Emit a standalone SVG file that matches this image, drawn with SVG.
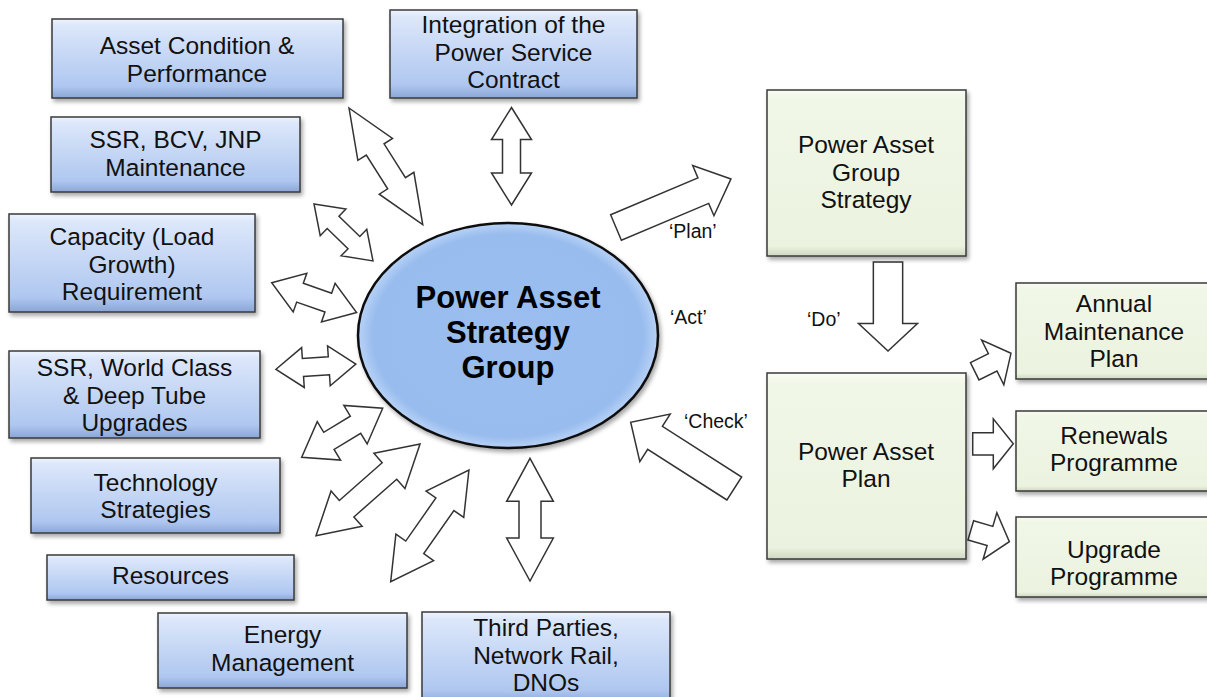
<svg xmlns="http://www.w3.org/2000/svg" width="1207" height="697" viewBox="0 0 1207 697">
<defs>
  <linearGradient id="blueG" x1="0" y1="0" x2="0" y2="1">
    <stop offset="0" stop-color="#eef4fe"/>
    <stop offset="0.08" stop-color="#dce7fa"/>
    <stop offset="0.85" stop-color="#afc7f0"/>
    <stop offset="1" stop-color="#8aa6d6"/>
  </linearGradient>
  <linearGradient id="greenG" x1="0" y1="0" x2="0" y2="1">
    <stop offset="0" stop-color="#f8fbf2"/>
    <stop offset="0.06" stop-color="#f1f7e7"/>
    <stop offset="0.94" stop-color="#ebf2df"/>
    <stop offset="1" stop-color="#cfd8c2"/>
  </linearGradient>
  <radialGradient id="ellG" cx="0.5" cy="0.5" r="0.5">
    <stop offset="0" stop-color="#9bbeef"/>
    <stop offset="0.9" stop-color="#98bcee"/>
    <stop offset="1" stop-color="#b8d2f6"/>
  </radialGradient>
  <filter id="sh" x="-10%" y="-10%" width="120%" height="130%">
    <feDropShadow dx="2" dy="3" stdDeviation="2" flood-color="#000" flood-opacity="0.35"/>
  </filter>
</defs>
<style>
  .bbox { fill: url(#blueG); stroke: #3a3a3a; stroke-width: 1.5; filter: url(#sh); }
  .gbox { fill: url(#greenG); stroke: #3a3a3a; stroke-width: 1.5; filter: url(#sh); }
  .t { font-family: "Liberation Sans", Arial, sans-serif; font-size: 24.5px; fill: #111; text-anchor: middle; }
  .tb { font-family: "Liberation Sans", Arial, sans-serif; font-size: 31px; font-weight: bold; fill: #000; text-anchor: middle; }
  .lbl { font-family: "Liberation Sans", Arial, sans-serif; font-size: 19.5px; fill: #111; }
  .arr { fill: #fff; stroke: #333; stroke-width: 1.5; stroke-linejoin: miter; }
</style>
<rect width="1207" height="697" fill="#fff"/>

<g id="connectors">
  <path class="arr" transform="translate(511.5,107.5) rotate(90)" d="M0,0 L32,-20 L32,-9 L65.5,-9 L65.5,-20 L97.5,0 L65.5,20 L65.5,9 L32,9 L32,20 Z"/>
  <path class="arr" transform="translate(349,108) rotate(57.7)" d="M0,0 L49,-20.5 L49,-10.5 L89,-10.5 L89,-20.5 L138,0 L89,20.5 L89,10.5 L49,10.5 L49,20.5 Z"/>
  <path class="arr" transform="translate(314,204) rotate(44)" d="M0,0 L26.5,-18.5 L26.5,-8.5 L55.5,-8.5 L55.5,-18.5 L82,0 L55.5,18.5 L55.5,8.5 L26.5,8.5 L26.5,18.5 Z"/>
  <path class="arr" transform="translate(271.7,282.7) rotate(19.4)" d="M0,0 L30,-20.5 L30,-10 L60,-10 L60,-20.5 L90,0 L60,20.5 L60,10 L30,10 L30,20.5 Z"/>
  <path class="arr" transform="translate(276,369.3) rotate(-3.8)" d="M0,0 L27,-20 L27,-9 L53,-9 L53,-20 L80,0 L53,20 L53,9 L27,9 L27,20 Z"/>
  <path class="arr" transform="translate(301.7,457.3) rotate(-31.2)" d="M0,0 L31.8,-22.5 L31.8,-10 L62.9,-10 L62.9,-22.5 L94.7,0 L62.9,22.5 L62.9,10 L31.8,10 L31.8,22.5 Z"/>
  <path class="arr" transform="translate(316,535.7) rotate(-41.4)" d="M0,0 L40.8,-23.5 L40.8,-11 L97.9,-11 L97.9,-23.5 L138.7,0 L97.9,23.5 L97.9,11 L40.8,11 L40.8,23.5 Z"/>
  <path class="arr" transform="translate(390.7,581.7) rotate(-55)" d="M0,0 L41.9,-23 L41.9,-11 L94.5,-11 L94.5,-23 L136.4,0 L94.5,23 L94.5,11 L41.9,11 L41.9,23 Z"/>
  <path class="arr" transform="translate(530,458.3) rotate(90)" d="M0,0 L43,-23.35 L43,-11 L79.7,-11 L79.7,-23.35 L122.7,0 L79.7,23.35 L79.7,11 L43,11 L43,23.35 Z"/>
  <path class="arr" transform="translate(616,227.5) rotate(-22.9)" d="M0,-13.85 L94.8,-13.85 L94.8,-27.3 L124.8,0 L94.8,27.3 L94.8,13.85 L0,13.85 Z"/>
  <path class="arr" transform="translate(734.3,488.5) rotate(-147.4)" d="M0,-13.65 L94.1,-13.65 L94.1,-28.2 L123,0 L94.1,28.2 L94.1,13.65 L0,13.65 Z"/>
  <path class="arr" transform="translate(888,262) rotate(90)" d="M0,-14.65 L61.6,-14.65 L61.6,-29.5 L89,0 L61.6,29.5 L61.6,14.65 L0,14.65 Z"/>
  <path class="arr" transform="translate(974.7,371.3) rotate(-26.4)" d="M0,-9.6 L20.1,-9.6 L20.1,-25 L40.5,0 L20.1,25 L20.1,9.6 L0,9.6 Z"/>
  <path class="arr" transform="translate(972.7,443.8)" d="M0,-11.15 L20.6,-11.15 L20.6,-25 L40.6,0 L20.6,25 L20.6,11.15 L0,11.15 Z"/>
  <path class="arr" transform="translate(970.8,530.3) rotate(16.5)" d="M0,-10 L20,-10 L20,-24.2 L40.2,0 L20,24.2 L20,10 L0,10 Z"/>
  <text class="lbl" x="669" y="238">‘Plan’</text>
  <text class="lbl" x="670" y="324">‘Act’</text>
  <text class="lbl" x="807" y="326">‘Do’</text>
  <text class="lbl" x="684" y="428">‘Check’</text>
</g>

<g id="asset-condition">
  <rect class="bbox" x="52" y="19" width="291" height="79"/>
  <text class="t" x="197" y="54">Asset Condition &amp;</text>
  <text class="t" x="197" y="82">Performance</text>
</g>
<g id="ssr-bcv-jnp">
  <rect class="bbox" x="51" y="117" width="249" height="75"/>
  <text class="t" x="175.5" y="147.5">SSR, BCV, JNP</text>
  <text class="t" x="175.5" y="175.5">Maintenance</text>
</g>
<g id="integration">
  <rect class="bbox" x="390" y="10" width="247" height="88"/>
  <text class="t" x="513.5" y="33">Integration of the</text>
  <text class="t" x="513.5" y="60.5">Power Service</text>
  <text class="t" x="513.5" y="88">Contract</text>
</g>
<g id="capacity">
  <rect class="bbox" x="9" y="214" width="246" height="98"/>
  <text class="t" x="132" y="245">Capacity (Load</text>
  <text class="t" x="132" y="272.5">Growth)</text>
  <text class="t" x="132" y="300">Requirement</text>
</g>
<g id="ssr-world-class">
  <rect class="bbox" x="9" y="351" width="251" height="87"/>
  <text class="t" x="134.5" y="376">SSR, World Class</text>
  <text class="t" x="134.5" y="404">&amp; Deep Tube</text>
  <text class="t" x="134.5" y="431">Upgrades</text>
</g>
<g id="technology">
  <rect class="bbox" x="31" y="458" width="249" height="75"/>
  <text class="t" x="155.5" y="491">Technology</text>
  <text class="t" x="155.5" y="518">Strategies</text>
</g>
<g id="resources">
  <rect class="bbox" x="47" y="555" width="247" height="45"/>
  <text class="t" x="170.5" y="584">Resources</text>
</g>
<g id="energy">
  <rect class="bbox" x="158" y="613" width="249" height="75"/>
  <text class="t" x="282.5" y="643">Energy</text>
  <text class="t" x="282.5" y="671">Management</text>
</g>
<g id="third-parties">
  <rect class="bbox" x="422" y="612" width="248" height="92"/>
  <text class="t" x="546" y="636">Third Parties,</text>
  <text class="t" x="546" y="664">Network Rail,</text>
  <text class="t" x="546" y="691">DNOs</text>
</g>

<g id="strategy-group">
  <ellipse cx="508" cy="335.5" rx="150" ry="112.5" fill="url(#ellG)" stroke="#111" stroke-width="2.5" filter="url(#sh)"/>
  <text class="tb" x="508" y="308">Power Asset</text>
  <text class="tb" x="508" y="343">Strategy</text>
  <text class="tb" x="508" y="378">Group</text>
</g>

<g id="group-strategy">
  <rect class="gbox" x="767" y="90" width="199" height="166"/>
  <text class="t" x="866" y="153">Power Asset</text>
  <text class="t" x="866" y="180.5">Group</text>
  <text class="t" x="866" y="208">Strategy</text>
</g>
<g id="asset-plan">
  <rect class="gbox" x="767" y="373" width="199" height="186"/>
  <text class="t" x="866" y="460">Power Asset</text>
  <text class="t" x="866" y="487">Plan</text>
</g>
<g id="annual-maintenance">
  <rect class="gbox" x="1016" y="283" width="196" height="96"/>
  <text class="t" x="1114" y="311.5">Annual</text>
  <text class="t" x="1114" y="339.5">Maintenance</text>
  <text class="t" x="1114" y="367">Plan</text>
</g>
<g id="renewals">
  <rect class="gbox" x="1016" y="411" width="196" height="80"/>
  <text class="t" x="1114" y="443.5">Renewals</text>
  <text class="t" x="1114" y="471">Programme</text>
</g>
<g id="upgrade">
  <rect class="gbox" x="1016" y="517" width="196" height="80"/>
  <text class="t" x="1114" y="557.5">Upgrade</text>
  <text class="t" x="1114" y="585">Programme</text>
</g>
</svg>
